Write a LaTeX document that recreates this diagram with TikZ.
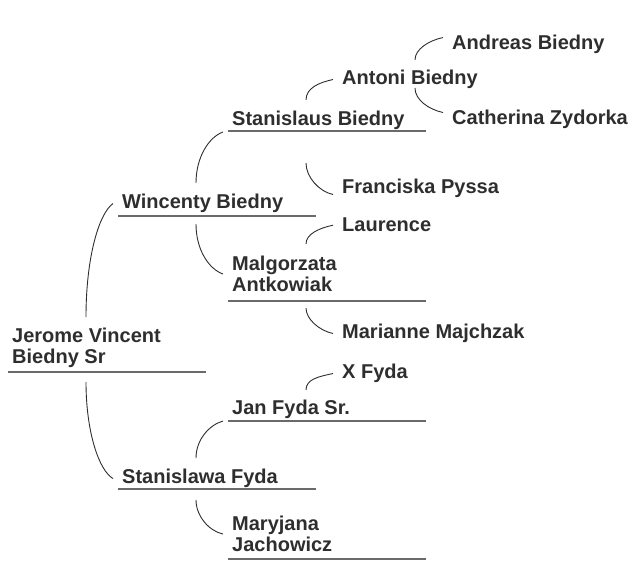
\documentclass[tikz,border=0pt]{standalone}
\usepackage{fontspec}
\setmainfont{Liberation Sans}
\usetikzlibrary{calc}

\definecolor{inkgray}{HTML}{2E2E2E}
\definecolor{rulegray}{HTML}{6A6A6A}

\begin{document}
\begin{tikzpicture}[x=1pt,y=-1pt,
  person/.style={anchor=north west,inner sep=0pt,align=left,text=inkgray,
    font=\bfseries\fontsize{20}{21}\selectfont},
  rule/.style={rulegray,line width=1.1pt},
  link/.style={inkgray,line width=0.9pt}]
\useasboundingbox (0,0) rectangle (632,575);

% generation 0 and 1
\node[person] (jerome) at (12,328) {Jerome Vincent\\Biedny Sr};
\node[person] (wincenty) at (122,194) {Wincenty Biedny};
\node[person] (stanislawa) at (122,469) {Stanislawa Fyda};

% generation 2
\node[person] (stanislaus) at (232,111) {Stanislaus Biedny};
\node[person] (malgorzata) at (232,256) {Malgorzata\\Antkowiak};
\node[person] (jan) at (232,400) {Jan Fyda Sr.};
\node[person] (maryjana) at (232,516) {Maryjana\\Jachowicz};

% generation 3 and 4
\node[person] (antoni) at (342,70) {Antoni Biedny};
\node[person] (franciska) at (342,179) {Franciska Pyssa};
\node[person] (laurence) at (342,218) {Laurence};
\node[person] (marianne) at (342,324) {Marianne Majchzak};
\node[person] (xfyda) at (342,364) {X Fyda};
\node[person] (andreas) at (452,35) {Andreas Biedny};
\node[person] (catherina) at (452,110) {Catherina Zydorka};

% underlines
\draw[rule] ([shift={(-4,44)}]jerome.north west) coordinate (jerome-ul) -- +(198,0);
\draw[rule] ([shift={(-4,22)}]wincenty.north west) coordinate (wincenty-ul) -- +(198,0);
\draw[rule] ([shift={(-4,20)}]stanislawa.north west) coordinate (stanislawa-ul) -- +(198,0);
\draw[rule] ([shift={(-4,20)}]stanislaus.north west) coordinate (stanislaus-ul) -- +(198,0);
\draw[rule] ([shift={(-4,45)}]malgorzata.north west) coordinate (malgorzata-ul) -- +(198,0);
\draw[rule] ([shift={(-4,21)}]jan.north west) coordinate (jan-ul) -- +(198,0);
\draw[rule] ([shift={(-4,43)}]maryjana.north west) coordinate (maryjana-ul) -- +(198,0);

% connectors
\draw[link] ([shift={(74,-11)}]jerome.north west) .. controls +(0,-60) and +(-14,10) .. ([shift={(-9,0)}]wincenty.west);
\draw[link] ([shift={(78,10)}]jerome-ul) .. controls +(0,50) and +(-14,-8) .. ([shift={(-9,0)}]stanislawa.west);
\draw[link] ([shift={(74,-11)}]wincenty.north west) .. controls +(0,-26) and +(-14,5) .. ([shift={(-5,1)}]stanislaus-ul);
\draw[link] ([shift={(78,8)}]wincenty-ul) .. controls +(0,26) and +(-14,-5) .. ([shift={(-9,0)}]malgorzata.west);
\draw[link] ([shift={(74,-11)}]stanislaus.north west) .. controls +(0,-12) and +(-14,3) .. ([shift={(-9,0)}]antoni.west);
\draw[link] ([shift={(78,32)}]stanislaus-ul) .. controls +(0,14) and +(-14,-3) .. ([shift={(-9,6)}]franciska.west);
\draw[link] ([shift={(73,-10)}]antoni.north west) .. controls +(0,-11) and +(-14,3) .. ([shift={(-9,-7)}]andreas.west);
\draw[link] ([shift={(73,18)}]antoni.north west) .. controls +(0,12) and +(-14,-3) .. ([shift={(-9,-7)}]catherina.west);
\draw[link] ([shift={(74,-12)}]malgorzata.north west) .. controls +(0,-10) and +(-14,3) .. ([shift={(-9,0)}]laurence.west);
\draw[link] ([shift={(78,7)}]malgorzata-ul) .. controls +(0,11) and +(-14,-3) .. ([shift={(-9,0)}]marianne.west);
\draw[link] ([shift={(74,-10)}]jan.north west) .. controls +(0,-11) and +(-14,3) .. ([shift={(-9,0)}]xfyda.west);
\draw[link] ([shift={(74,-11)}]stanislawa.north west) .. controls +(0,-18) and +(-14,4) .. ([shift={(-5,0)}]jan-ul);
\draw[link] ([shift={(78,11)}]stanislawa-ul) .. controls +(0,16) and +(-14,-3) .. ([shift={(-9,0)}]maryjana.west);
\end{tikzpicture}
\end{document}
